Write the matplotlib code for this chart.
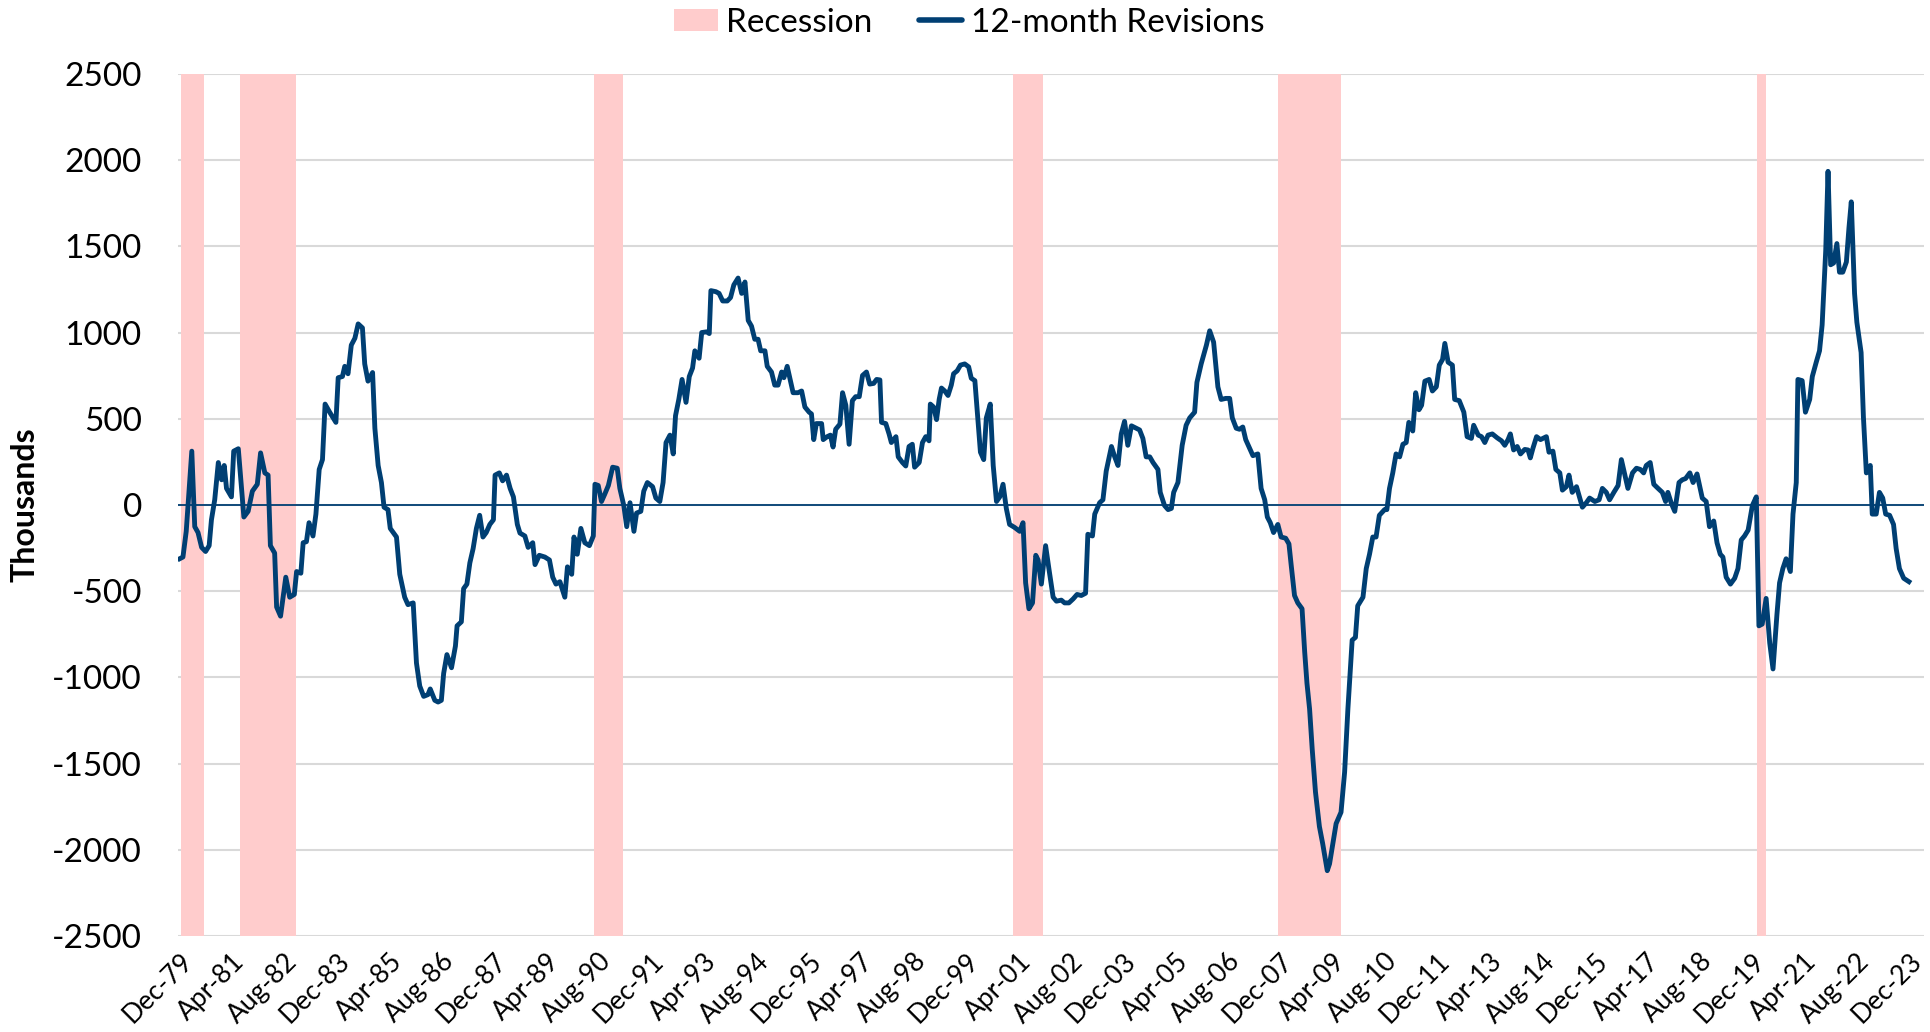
import matplotlib.pyplot as plt
import pandas as pd
from matplotlib.lines import Line2D
from matplotlib.patches import Patch

plt.rcParams['font.family'] = ['Lato', 'DejaVu Sans']

# Meses desde dic-1979 (posicion) y revision a 12 meses (miles)
meses = [
    0, 1, 2, 3.7, 4.6, 5.6, 6.7, 7.9, 9, 9.7, 10.7, 11.8, 12.8, 13.6, 14.3, 15.8,
    16.5, 17.9, 19.6, 20.9, 22.2, 23.7, 24.7, 26, 27, 27.7, 29, 29.6, 30.8, 32.4,
    33.6, 35, 35.7, 37, 37.7, 38.7, 39.5, 40.7, 41.6, 42.6, 43.6, 44.4, 45.8, 47.7,
    48.4, 49.7, 50.4, 51.4, 52.4, 53.5, 54.5, 55.8, 56.5, 57.5, 58.9, 59.6, 60.6,
    61.6, 62.4, 63.6, 64.3, 66.2, 67.2, 68.7, 69.7, 71.3, 72.3, 73.3, 74.5, 75.8,
    76.5, 77.9, 78.9, 79.9, 80.6, 81.6, 83, 84.2, 84.7, 86, 86.7, 87.7, 88.6, 89.6,
    90.6, 91.6, 92.6, 93.6, 94.7,
    95.8, 96.3, 97.6, 98.6, 99.8, 100.9, 101.9, 103.1, 103.9, 105.4, 106.4, 107.8,
    108.5, 109.8, 111.5, 112.9, 113.9, 114.9, 116.1, 117.6, 118.4, 119.7, 120.4,
    121.4, 122.5, 123.7, 125.1, 126.3, 126.8, 127.8, 128.8, 129.8, 130.9, 132.2,
    133.6, 134.4, 135.6, 136.5, 137.5, 138.7, 139.5, 140.8, 141.7, 142.8, 144.4,
    145.4, 146.6, 147.6, 148.5, 149.7, 150.7, 151.4, 152.4, 153.4, 154.6, 155.6,
    156.6, 157.3, 158.6, 159.4, 160.9, 161.7, 162.2, 163.7, 164.7, 165.8, 167.2,
    168.2, 169.2, 170.5, 171.6, 172.6, 173.6, 174.6, 175.6, 176.6, 177.4, 178.7,
    179.4, 180.7, 181.7, 182.7, 183.8, 184.5, 185.5,
    187.3, 188.8, 189.9, 190.9, 192.2, 192.9, 193.6, 194.4, 196, 196.5, 197.7,
    198.7, 199.5, 200.3, 201.6, 202.4, 203.4, 204.4, 205.4, 206.4, 207.5, 208.5,
    209.7, 210.7, 211.9, 212.8, 213.8, 214.3, 215.6, 216.6, 217.3, 218.7, 219.4,
    220.7, 221.7, 222.7, 223.7, 224.4, 225.8, 226.8, 227.8, 228.8, 229.2, 230.2,
    231.1, 231.9, 232.6, 233.6, 234.6, 235.6, 236.3, 237.4, 238.4, 239.7, 240.9,
    241.7, 242.8, 243.8, 244.5, 245.5, 246.3, 247.5, 248.4, 249.4, 250.4, 251.4,
    252.4, 253.4, 254.9, 256.5, 257.5, 258.3, 259.3, 260.4, 261.4, 262.1, 263.1,
    264.4, 265.4, 266.7, 267.7, 269.2, 270.2, 271.5, 272.8, 274, 275.3, 276.6,
    277.3, 278.7, 279.4,
    280.9, 281.9, 282.9, 284.5, 285.5, 286.5, 287.5, 288.5, 289.5, 290.6, 292.1,
    293.1, 294.1, 295.1, 296.2, 297.2, 298.7, 299.4, 300.7, 301.8, 302.8, 303.5,
    304.8, 306.1, 307.3, 308.4, 309.9, 310.6, 311.9, 313.5, 314.5, 315.7, 317, 318,
    319.4, 320.6, 321.4, 322.6, 323.6, 324.6, 325.5, 326.7, 327.7, 329.2, 330.2,
    331.3, 332.1, 333, 334, 335.3, 336.3, 337.7, 338.7, 339.4, 340.4, 341.4, 342.7,
    343.5, 344.2, 345, 345.8, 346.8, 348, 349, 350.4, 351.1, 352.1, 353.1, 354.6,
    355.7, 356.7, 358, 359, 359.7, 361.3, 362.3, 363.3, 364.3, 365.3, 366.3, 367.9,
    368.6, 369.4, 370.4, 371.4, 372.5, 373.5, 374.5, 375.3, 376.5,
    377.4, 378.4, 379.2, 380.2, 381.5, 382.5, 383.7, 384.6, 385.6, 386.3, 387.3,
    388.6, 389.3, 390.7, 392.1, 393.1, 394.4, 395.1, 396.5, 397.5, 398.5, 399.5,
    400.8, 402.3, 403.6, 404.6, 405.6, 406.3, 407.3, 408.4, 409.4, 410.7, 411.7,
    412.4, 413.2, 414.3, 415.5, 417.3, 418.1, 419.3, 420.2, 421.4, 422.2, 423.4,
    424.2, 425.2, 426.5, 427.5, 428.3, 429.5, 430.5, 432.1, 433.4, 434.4, 435.6,
    436.6, 437.9, 439.2, 440.2, 441.2, 442.2, 443.6, 444.8, 446, 447, 447.8, 449,
    450.1, 451.4, 452.7, 453.7, 454.4, 455.5, 456.5, 457.8, 458.8, 459.8, 461.1,
    462.1, 463.3,
    464.9, 466.1, 467.1, 468.4, 469.4, 470.4, 471.2, 472.2, 473.5, 474.8, 475.8,
    476.8, 477.8, 478.9, 480.2, 481.4, 482.2, 483.2, 484.4, 485.5, 486.5, 487.7,
    488.5, 489.5, 490.5, 491.8, 492.6, 493.6, 494.1, 495.4, 496.4, 497.7, 498.5,
    499.7, 500.7, 501.5, 502.6, 503.3, 504.1, 505, 506, 506.8, 507.8, 508.9, 509.7,
    510.4, 511.4, 512.1, 513.4, 514.1, 515, 516.2, 516.8, 518, 519, 520, 520.9,
    522.1, 523.3, 524.1, 525.1, 526.4, 528,
]
revisiones = [
    -312, -302, -153, 312, -126, -160, -246, -270, -236, -86, 30, 246, 146, 229, 96, 47,
    312, 326, -70, -37, 80, 120, 302, 186, 173, -236, -279, -592, -645, -419,
    -535, -519, -386, -396, -219, -213, -103, -180, -53, 206, 263, 585, 538, 479,
    738, 745, 804, 761, 927, 967, 1050, 1027, 818, 718, 768, 445, 229,
    130, -13, -27, -136, -186, -402, -535, -578, -568, -917, -1050, -1110, -1100,
    -1067, -1133, -1143, -1133, -977, -868, -944, -818, -701, -678, -485, -459, -336, -253,
    -136, -60, -186, -160, -113,
    -86, 173, 186, 140, 173, 96, 47, -113, -163, -180, -246, -219,
    -346, -292, -302, -319, -419, -459, -445, -535, -359, -402, -186,
    -286, -136, -219, -236, -180, 120, 113, 20, 63, 113, 219,
    213, 96, -3, -126, 13, -153, -47, -37, 80, 130, 106,
    40, 20, 130, 362, 405, 296, 518, 612, 728, 595, 745,
    794, 894, 851, 1000, 1004, 994, 1243, 1237, 1227, 1183, 1183,
    1203, 1276, 1316, 1227, 1293, 1070, 1037, 961, 961, 894, 894,
    804, 771, 695, 695, 771, 738, 804,
    651, 651, 661, 568, 538, 528, 379, 472, 472, 379, 396,
    405, 336, 439, 469, 651, 578, 352, 605, 628, 628, 751,
    771, 701, 705, 728, 725, 479, 472, 412, 362, 396, 279,
    246, 226, 339, 352, 219, 246, 362, 396, 372, 585, 568,
    495, 612, 678, 661, 635, 695, 761, 778, 811, 818, 801,
    735, 721, 479, 306, 263, 505, 585, 229, 20, 47, 120,
    -20, -113, -130, -153, -103, -452, -602, -568, -292, -319, -459,
    -236, -369, -535, -558, -552, -568, -568, -545, -519, -525, -512,
    -170, -180, -53,
    13, 30, 196, 339, 279, 229, 412, 485, 346, 459, 445,
    435, 386, 279, 279, 246, 206, 73, -3, -27, -20, 73,
    130, 346, 462, 505, 538, 711, 818, 927, 1010, 944, 685, 612,
    618, 618, 505, 445, 439, 452, 379, 329, 286, 296, 96,
    30, -70, -103, -160, -113, -186, -193, -226, -352, -525, -568, -602,
    -851, -1034, -1183, -1416, -1665, -1865, -1964, -2121, -2081, -1964, -1848, -1782,
    -1549, -1183, -784, -768, -585, -535, -369, -286, -186, -186, -60, -27,
    -27, 96, 186, 296, 279, 352, 362, 479, 429,
    651, 552, 578, 718, 728, 661, 685, 811, 844, 937, 828,
    811, 612, 605, 538, 396, 386, 462, 405, 396, 362, 405,
    412, 389, 372, 346, 379, 412, 319, 339, 296, 322, 319,
    273, 329, 396, 379, 396, 306, 312, 206, 186, 86, 106,
    173, 73, 106, 40, -13, 13, 40, 20, 30, 96, 73,
    30, 73, 113, 263, 180, 96, 186, 213, 206, 186, 229, 246,
    120, 96, 73, 20, 73, 7, -37, 130, 146, 153, 186,
    130, 180,
    40, 20, -126, -93, -219, -286, -302, -419, -459, -425, -369,
    -203, -180, -146, -3, 47, -701, -691, -542, -801, -951, -635,
    -452, -369, -312, -386, -53, 130, 728, 721, 538, 612, 745,
    828, 894, 1044, 1476, 1935, 1393, 1403, 1516, 1350, 1350, 1409, 1609,
    1758, 1227, 1060, 884, 512, 186, 229, -53, -53, 73, 40, -53,
    -60, -113, -253, -369, -425, -445,
]

etiquetas_x = [
    "Dec-79", "Apr-81", "Aug-82", "Dec-83", "Apr-85", "Aug-86", "Dec-87", "Apr-89",
    "Aug-90", "Dec-91", "Apr-93", "Aug-94", "Dec-95", "Apr-97", "Aug-98", "Dec-99",
    "Apr-01", "Aug-02", "Dec-03", "Apr-05", "Aug-06", "Dec-07", "Apr-09", "Aug-10",
    "Dec-11", "Apr-13", "Aug-14", "Dec-15", "Apr-17", "Aug-18", "Dec-19", "Apr-21",
    "Aug-22", "Dec-23",
]

inicio_recesion = ["1980-01", "1981-07", "1990-07", "2001-03", "2007-12", "2020-02"]
fin_recesion = ["1980-07", "1982-11", "1991-03", "2001-11", "2009-06", "2020-04"]

base = pd.Period("1979-12", freq="M")


def a_mes(fecha):
    """Numero de meses desde dic-1979."""
    return (pd.Period(fecha, freq="M") - base).n


azul = "#003F73"
rosa = "#FFCCCC"

fig = plt.figure(figsize=(19.31, 10.32), dpi=100)
ax = fig.add_axes([0.0922, 0.093, 0.904, 0.8354])

# Bandas de recesion
for ini, fin in zip(inicio_recesion, fin_recesion):
    ax.axvspan(a_mes(ini) - 0.5, a_mes(fin) + 0.5, color=rosa, lw=0, zorder=1)

ax.axhline(0, color=azul, lw=1.3, zorder=2)
ax.plot(meses, revisiones, color=azul, lw=3.5, solid_joinstyle="round", zorder=3)

ax.set_xlim(-0.5, 532.5)
ax.set_ylim(-2500, 2500)
yticks = list(range(-2500, 2501, 500))
ax.set_yticks(yticks)
ax.set_yticklabels([str(v) for v in yticks], fontsize=24)
ax.set_xticks(range(0, 529, 16))
ax.set_xticklabels(etiquetas_x, fontsize=19, rotation=45, ha="right",
                   va="top", rotation_mode="anchor")
ax.tick_params(axis="x", length=0, pad=9)
ax.tick_params(axis="y", length=0, pad=26)

ax.yaxis.grid(True, color="#D9D9D9", lw=1.5, zorder=0)
ax.set_axisbelow(True)
for s in ax.spines.values():
    s.set_visible(False)

fig.text(0.013, 0.5107, "Thousands", rotation=90, ha="center", va="center",
         fontsize=23, fontweight="bold")

handles = [Patch(facecolor=rosa, edgecolor="none"),
           Line2D([0], [0], color=azul, lw=4, solid_capstyle="round")]
fig.legend(handles, ["Recession", "12-month Revisions"], loc="center",
           bbox_to_anchor=(0.502, 0.978), ncol=2, frameon=False, fontsize=24,
           handlelength=1.3, handleheight=0.65, handletextpad=0.25,
           columnspacing=1.4)

fig.savefig("out.png", dpi=100)
